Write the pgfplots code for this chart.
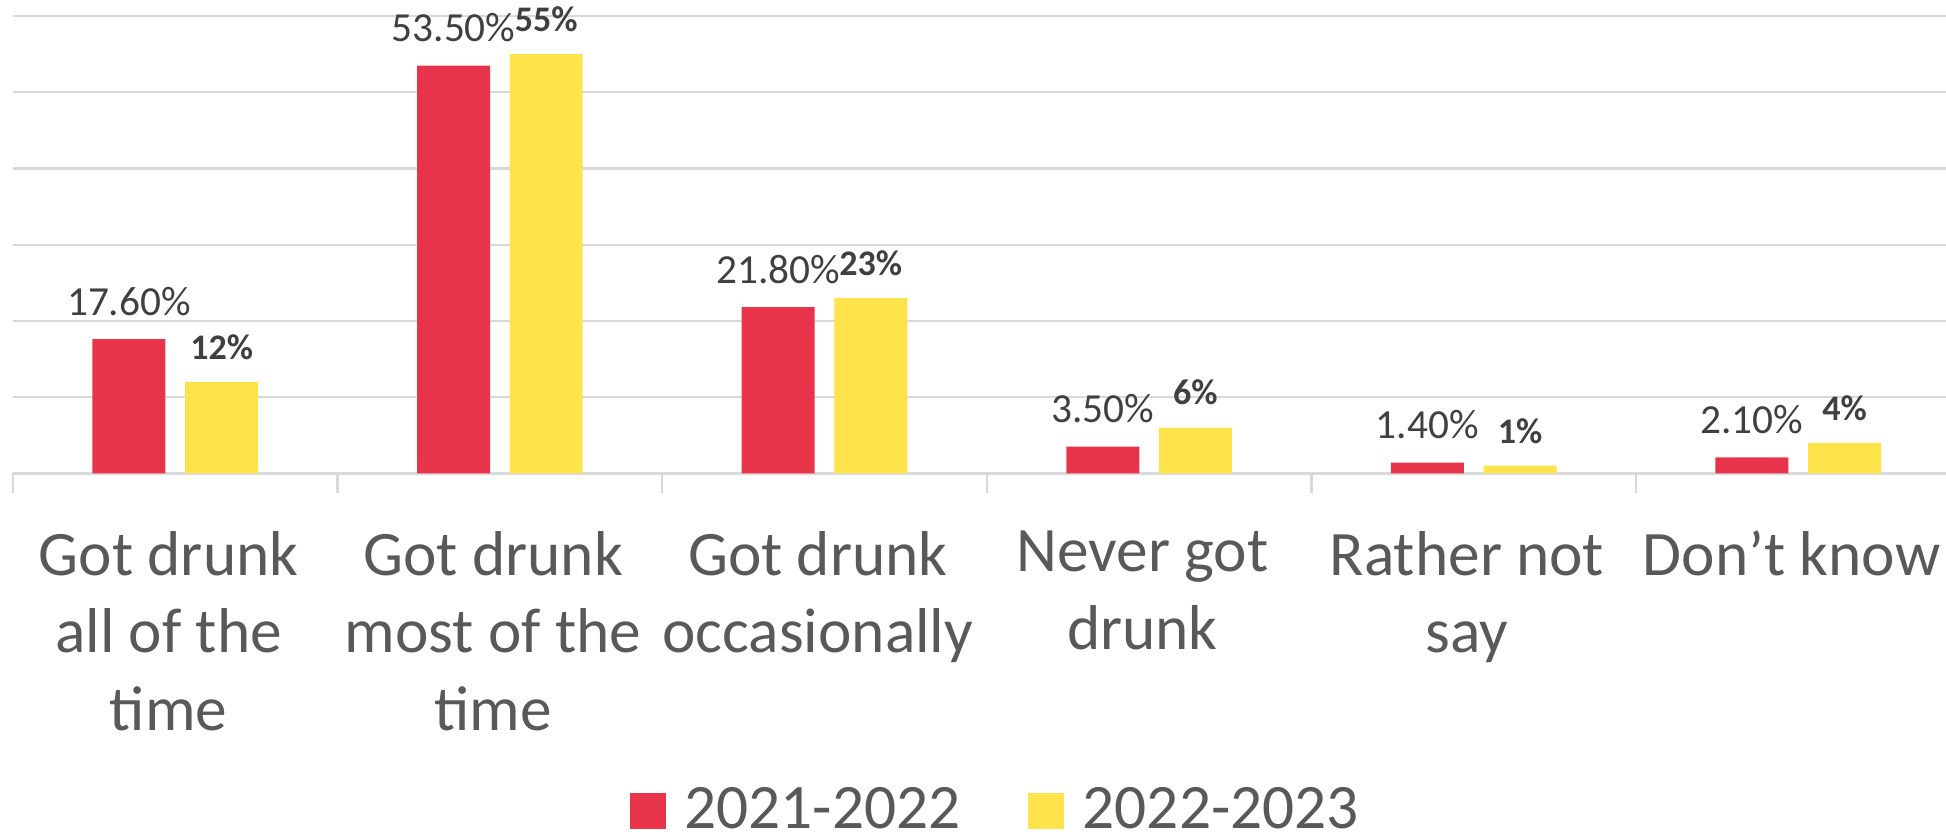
\documentclass[border=0pt]{standalone}
\usepackage{fontspec}
\setmainfont{Carlito}
\usepackage{pgfplots}
\pgfplotsset{compat=1.18}
\definecolor{cred}{HTML}{E8344A}
\definecolor{cyel}{HTML}{FFE34B}
\definecolor{lbl}{HTML}{595959}
\definecolor{dlbl}{HTML}{404040}
\definecolor{gridc}{HTML}{D9D9D9}
\begin{document}
\begin{tikzpicture}
\path[use as bounding box] (-3.9pt,-108.5pt) rectangle (579.9pt,142pt);
\begin{axis}[
  at={(0pt,0pt)}, anchor=south west,
  scale only axis, width=579.9pt, height=137.2pt,
  xmin=-0.5, xmax=5.455, ymin=0, ymax=60,
  axis lines*=left,
  x axis line style={gridc, line width=0.8pt, -},
  y axis line style={draw=none},
  ytick={0,10,...,60}, yticklabels={}, ytick style={draw=none},
  ymajorgrids, grid style={gridc, line width=0.7pt},
  xtick={0,1,2,3,4,5},
  xticklabels={{Got drunk\\all of the\\time},{Got drunk\\most of the\\time},{Got drunk\\occasionally},{Never got\\drunk},{Rather not\\say},{Don’t know}},
  minor xtick={-0.5,0.5,1.5,2.5,3.5,4.5,5.5},
  tick align=outside, major tick length=0pt, minor tick length=6pt,
  minor x tick style={gridc, line width=0.7pt},
  xticklabel style={font=\fontsize{19}{23.3}\selectfont, text=lbl, align=center, anchor=north, inner sep=0pt, yshift=-17.2pt, xshift=-2pt},
  clip=false,
  point meta=explicit symbolic,
  legend style={at={(0.5078,-0.779)}, anchor=south, draw=none, fill=none, inner sep=0pt,
    font=\fontsize{19}{23}\selectfont, text=lbl, legend columns=2,
    /tikz/every even column/.append style={column sep=20.3pt},
    /tikz/every odd column/.append style={column sep=5.5pt},
    nodes={inner sep=0pt, text depth=0pt}},
  legend image code/.code={\fill[#1] (0pt,-6.1pt) rectangle (10.8pt,4.7pt);},
]
\addplot[ybar, bar width=21.9pt, bar shift=-13.9pt, fill=cred, draw=none,
  nodes near coords,
  every node near coord/.append style={font=\fontsize{12.4}{14}\selectfont, text=dlbl, inner sep=0pt, text depth=0pt, yshift=7pt, xshift=-13.9pt}]
  coordinates {(0,17.6) [17.60\%] (1,53.5) [53.50\%] (2,21.8) [21.80\%] (3,3.5) [3.50\%] (4,1.4) [1.40\%] (5,2.1) [2.10\%]};
\addlegendentry{2021-2022}
\addplot[ybar, bar width=21.9pt, bar shift=13.9pt, fill=cyel, draw=none,
  nodes near coords,
  every node near coord/.append style={font=\bfseries\fontsize{10.8}{13}\selectfont, text=dlbl, inner sep=0pt, text depth=0pt, yshift=6.6pt, xshift=13.9pt}]
  coordinates {(0,12) [12\%] (1,55) [55\%] (2,23) [23\%] (3,6) [6\%] (4,1) [1\%] (5,4) [4\%]};
\addlegendentry{2022-2023}
\end{axis}
\end{tikzpicture}
\end{document}
